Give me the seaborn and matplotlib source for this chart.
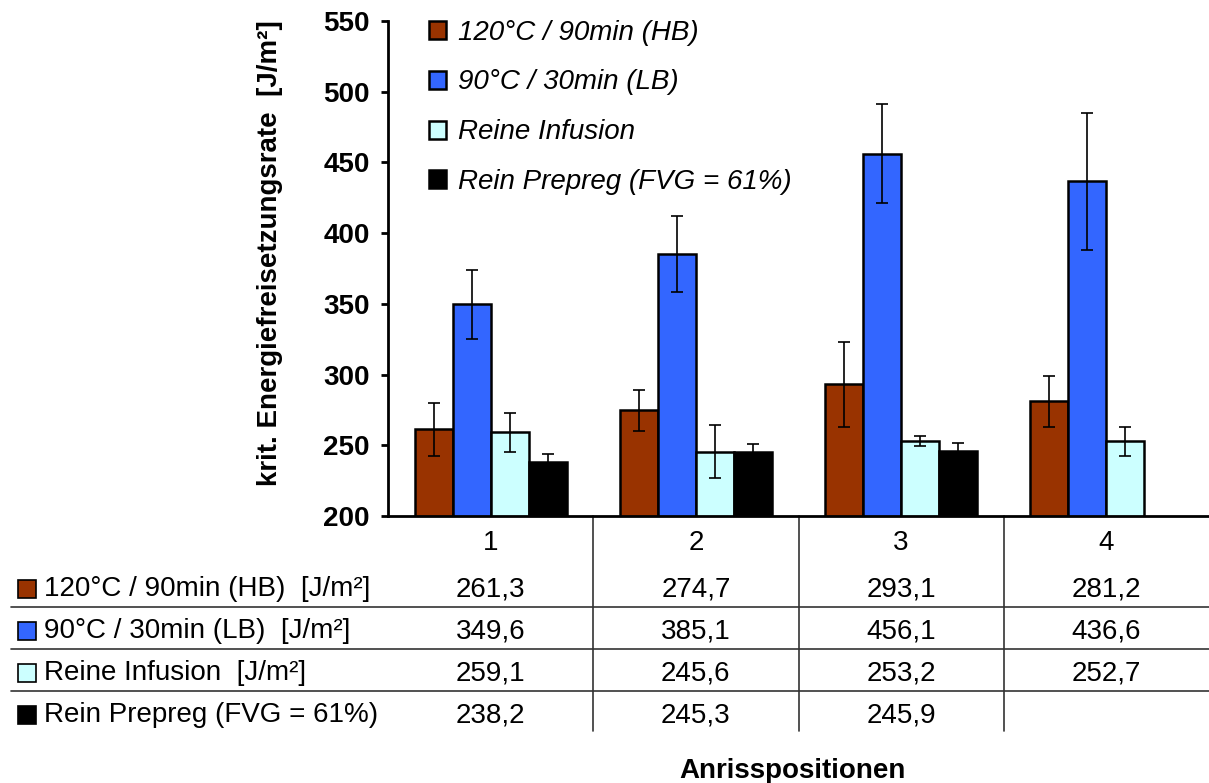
import numpy as np
import pandas as pd
import seaborn as sns
import matplotlib.pyplot as plt
from matplotlib import transforms
from matplotlib.lines import Line2D
from matplotlib.patches import Rectangle

# Data
positions = ["1", "2", "3", "4"]
series = ["120°C / 90min (HB)", "90°C / 30min (LB)", "Reine Infusion", "Rein Prepreg (FVG = 61%)"]
row_labels = ["120°C / 90min (HB)  [J/m²]", "90°C / 30min (LB)  [J/m²]",
              "Reine Infusion  [J/m²]", "Rein Prepreg (FVG = 61%)"]
colors = ["#993300", "#3366ff", "#ccffff", "#000000"]

hb = [261.3, 274.7, 293.1, 281.2]
hb_err = [18.7, 14.5, 30.0, 18.0]
lb = [349.6, 385.1, 456.1, 436.6]
lb_err = [24.5, 27.0, 35.0, 48.7]
infusion = [259.1, 245.6, 253.2, 252.7]
infusion_err = [14.0, 19.0, 3.5, 10.0]
prepreg = [238.2, 245.3, 245.9, None]
prepreg_err = [5.5, 5.7, 6.0, None]

values = [hb, lb, infusion, prepreg]
errors = [hb_err, lb_err, infusion_err, prepreg_err]

rows = []
for s, vals in zip(series, values):
    for p, v in zip(positions, vals):
        if v is not None:
            rows.append({"pos": p, "serie": s, "wert": v})
df = pd.DataFrame(rows)

sns.set_style("white")
plt.rcParams["font.family"] = ["Liberation Sans", "DejaVu Sans"]
plt.rcParams["text.color"] = "black"
plt.rcParams["axes.labelcolor"] = "black"
plt.rcParams["xtick.color"] = "black"
plt.rcParams["ytick.color"] = "black"

FS = 20
W, H = 1209, 783
fig = plt.figure(figsize=(W / 100, H / 100), dpi=100)
ax = fig.add_axes([388 / W, 1 - 516 / H, 821 / W, 495 / H])

sns.barplot(data=df, x="pos", y="wert", hue="serie", order=positions, hue_order=series,
            palette=colors, saturation=1, width=0.74, edgecolor="black", linewidth=1.8,
            errorbar=None, ax=ax)

# error bars
err_map = dict(zip(series, errors))
for cont, s in zip(ax.containers, series):
    for bar in cont:
        h = bar.get_height()
        if np.isnan(h):
            continue
        xc = bar.get_x() + bar.get_width() / 2
        e = err_map[s][int(round(xc))]
        if e is None:
            continue
        ax.errorbar(xc, h, yerr=e, color="black", lw=1.2, capsize=4.5, capthick=1.2)

ax.set_ylim(200, 550)
ax.set_yticks(range(200, 551, 50))
ax.set_xlim(-0.5, 3.5)
ax.set_xlabel("")
ax.set_ylabel("krit. Energiefreisetzungsrate  [J/m²]", fontsize=FS, fontweight="bold")
ax.yaxis.set_label_coords(-0.128, 0.531)

for side in ["top", "right"]:
    ax.spines[side].set_visible(False)
for side in ["left", "bottom"]:
    ax.spines[side].set_linewidth(2)
    ax.spines[side].set_color("black")

ax.tick_params(axis="y", direction="out", length=5, width=2, labelsize=FS, pad=8, left=True)
for t in ax.get_yticklabels():
    t.set_fontweight("bold")
ax.tick_params(axis="x", length=0, labelsize=FS, pad=10)

# legend
handles, labels = ax.get_legend_handles_labels()
ax.legend(handles, labels, loc="upper left", bbox_to_anchor=(0.05, 1.003), frameon=False,
          prop={"style": "italic", "size": FS}, labelspacing=0.86, handlelength=0.62,
          handleheight=0.62, handletextpad=0.42, borderpad=0, borderaxespad=0)

# data table below the chart
tr = transforms.blended_transform_factory(ax.transData, fig.transFigure)
row_y = [589, 631, 673, 715]
for y in [607, 649, 691]:
    fig.add_artist(Line2D([11 / W, 1.0], [1 - y / H] * 2, color="#333333", lw=1.2))
for xb in [0.5, 1.5, 2.5]:
    ax.add_artist(Line2D([xb, xb], [1 - 516 / H, 1 - 731 / H], transform=tr,
                         color="#333333", lw=1.2, clip_on=False))

for r, (lab, col, vals) in enumerate(zip(row_labels, colors, values)):
    yc = 1 - row_y[r] / H
    fig.add_artist(Rectangle((18 / W, yc - 9 / H), 18 / W, 18 / H, facecolor=col,
                             edgecolor="black", lw=1.2, transform=fig.transFigure))
    fig.text(44 / W, yc, lab, fontsize=FS, va="center", ha="left")
    for i, v in enumerate(vals):
        if v is None:
            continue
        ax.text(i, yc, f"{v:.1f}".replace(".", ","), transform=tr, fontsize=FS,
                ha="center", va="center", clip_on=False)

fig.text(792 / W, 1 - 771 / H, "Anrisspositionen", fontsize=FS, fontweight="bold",
         ha="center", va="center")

fig.savefig("out.png", dpi=100)
